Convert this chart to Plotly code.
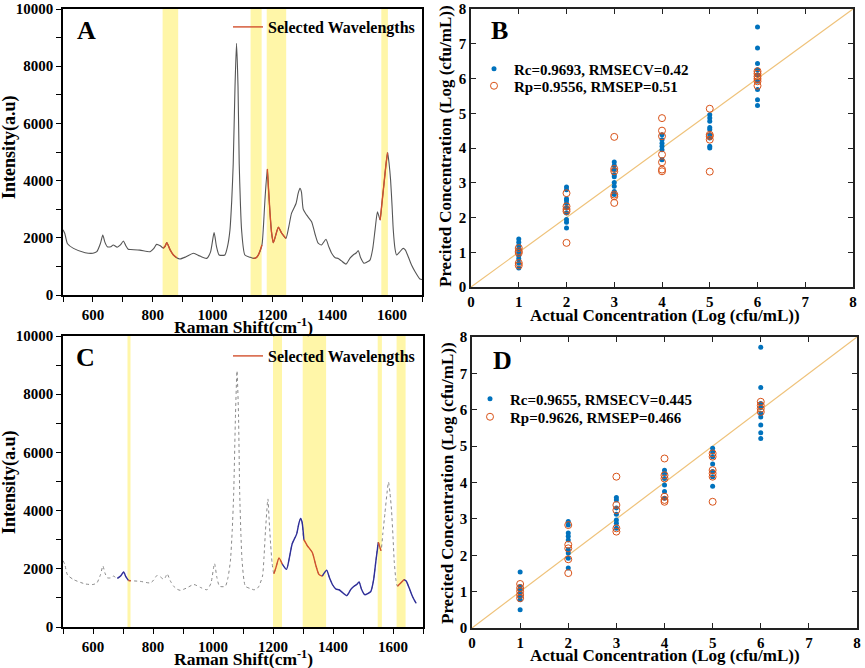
import plotly.graph_objects as go

# ---------------- data ----------------
raman_shift = [500, 506, 515, 535, 574, 600, 613, 625, 633, 640, 648, 660, 668, 681, 692, 702, 710, 718, 726,
               757, 791, 803, 813, 825, 835, 841, 847, 858, 869, 880, 891, 910, 936, 958, 980, 993, 1005, 1013,
               1022, 1041, 1050, 1058, 1064, 1069, 1075, 1080, 1085, 1089, 1093, 1097, 1108, 1125, 1136, 1145,
               1153, 1165, 1170, 1175, 1183, 1187, 1192, 1197, 1203, 1210, 1220, 1231, 1245, 1255, 1264, 1279,
               1286, 1292, 1297, 1303, 1314, 1331, 1342, 1353, 1364, 1379, 1388, 1398, 1410, 1420, 1430, 1446,
               1460, 1470, 1480, 1487, 1495, 1506, 1516, 1526, 1535, 1543, 1551, 1556, 1560, 1566, 1573, 1580,
               1585, 1590, 1595, 1600, 1604, 1610, 1615, 1625, 1637, 1644, 1654, 1665, 1677, 1693, 1700]
intensity = [2280, 2150, 1790, 1630, 1480, 1460, 1515, 1800, 2100, 1850, 1690, 1690, 1750, 1670, 1750, 1890,
             1720, 1600, 1590, 1570, 1515, 1620, 1770, 1720, 1640, 1700, 1830, 1580, 1400, 1300, 1260, 1330,
             1460, 1360, 1280, 1500, 2180, 1700, 1400, 1400, 1700, 2270, 3300, 4600, 7300, 8800, 7300, 4600,
             3200, 2270, 1400, 1320, 1280, 1300, 1400, 1750, 2400, 3320, 4400, 3700, 2860, 2200, 1830, 2050,
             2370, 2160, 1980, 2400, 2860, 3200, 3550, 3730, 3600, 3000, 2800, 2560, 2150, 1810, 1750, 1950,
             1700, 1460, 1300, 1280, 1200, 1080, 1300, 1400, 1470, 1550, 1300, 1110, 1150, 1220, 1600, 2270,
             2910, 2750, 2620, 3200, 3900, 4600, 4980, 4600, 4020, 3100, 2270, 1600, 1400, 1500, 1630, 1580,
             1340, 1050, 815, 560, 540]

bands_a = [[833, 885], [1127, 1164], [1181, 1246], [1564, 1586]]
selected_a = [[835, 880], [1130, 1165], [1183, 1245], [1560, 1585]]

bands_c = [[715, 725], [1200, 1230], [1299, 1377], [1549, 1563], [1612, 1642]]
selected_c = [[718, 726], [1203, 1231], [1303, 1364], [1551, 1560], [1615, 1637]]
retained_c = [[681, 718], [1231, 1303], [1364, 1551], [1637, 1677]]
c_end = 1680

levels = [1, 2, 3, 4, 5, 6]
b_cal = [[1.38, 1.29, 1.19, 1.09, 1.00, 0.90, 0.81, 0.69, 0.55],
         [2.88, 2.80, 2.54, 2.49, 2.40, 2.27, 2.13, 1.94, 1.86, 1.70],
         [3.60, 3.50, 3.38, 3.23, 3.17, 3.01, 2.90, 2.75, 2.66],
         [4.38, 4.24, 4.14, 4.05, 3.95, 3.66],
         [4.96, 4.86, 4.77, 4.59, 4.53, 4.38, 4.29, 4.05, 4.00],
         [7.48, 6.88, 6.43, 6.25, 6.11, 5.92, 5.68, 5.39, 5.22]]
b_pred = [[1.12, 1.03, 0.98, 0.69, 0.62],
          [2.70, 2.32, 2.24, 2.18, 1.27],
          [4.32, 3.40, 3.33, 2.66, 2.61, 2.42],
          [4.86, 4.50, 4.34, 3.81, 3.59, 3.38, 3.33],
          [5.13, 4.38, 4.34, 4.24, 3.32],
          [6.21, 6.14, 6.06, 5.99, 5.92, 5.79]]
d_cal = [[1.54, 1.14, 1.05, 0.96, 0.87, 0.78, 0.50],
         [2.93, 2.83, 2.61, 2.52, 2.42, 2.15, 2.06, 1.92, 1.65],
         [3.59, 3.52, 3.30, 3.13, 2.97, 2.88, 2.74],
         [4.34, 4.25, 4.11, 3.93, 3.75, 3.57],
         [4.94, 4.84, 4.71, 4.51, 4.30, 4.16, 3.90],
         [7.72, 6.61, 6.17, 6.06, 5.90, 5.80, 5.58, 5.37, 5.21]]
d_pred = [[1.21, 1.10, 1.01, 0.91, 0.82],
          [2.83, 2.29, 2.19, 1.89, 1.51],
          [4.16, 3.38, 3.24, 2.74, 2.65],
          [4.66, 4.20, 4.11, 3.61, 3.52, 3.47],
          [4.80, 4.71, 4.34, 4.25, 4.16, 3.47],
          [6.22, 6.12, 6.03, 5.94]]
ideal_line = [0, 8]

b_labels = ["Rc=0.9693, RMSECV=0.42", "Rp=0.9556, RMSEP=0.51"]
d_labels = ["Rc=0.9655, RMSECV=0.445", "Rp=0.9626, RMSEP=0.466"]

# ---------------- styles ----------------
FONT = "Liberation Serif, Times New Roman, serif"
GRAY = "#555555"
RED = "#D2502D"
BLUE = "#2E2E9A"
YELLOW = "rgba(255,240,110,0.6)"
MBLUE = "#0072BD"
MORANGE = "#D95319"
DIAG = "#EFC27A"

W, H = 865, 668


def fx(px):
    return px / W


def fy(py):
    return 1 - py / H


def segments(ranges, xs, ys):
    ox, oy = [], []
    for lo, hi in ranges:
        for x, y in zip(xs, ys):
            if lo <= x <= hi:
                ox.append(x)
                oy.append(y)
        ox.append(None)
        oy.append(None)
    return ox, oy


def flatten(groups):
    xs, ys = [], []
    for lv, vals in zip(levels, groups):
        for v in vals:
            xs.append(lv)
            ys.append(v)
    return xs, ys


fig = go.Figure()

# ---- Panel A ----
fig.add_trace(go.Scatter(x=raman_shift, y=intensity, mode="lines", line=dict(color=GRAY, width=1.1, shape="spline", smoothing=0.6),
                         showlegend=False, xaxis="x", yaxis="y"))
sx, sy = segments(selected_a, raman_shift, intensity)
fig.add_trace(go.Scatter(x=sx, y=sy, mode="lines", line=dict(color=RED, width=1.4, shape="spline", smoothing=0.6),
                         name="Selected Wavelengths", legend="legend", xaxis="x", yaxis="y"))

# ---- Panel C ----
cx = [x for x in raman_shift if x <= c_end]
cy = [y for x, y in zip(raman_shift, intensity) if x <= c_end]
fig.add_trace(go.Scatter(x=cx, y=cy, mode="lines", line=dict(color="#8a8a8a", width=1.0, dash="dot", shape="spline", smoothing=0.6),
                         showlegend=False, xaxis="x3", yaxis="y3"))
bx, by = segments(retained_c, raman_shift, intensity)
fig.add_trace(go.Scatter(x=bx, y=by, mode="lines", line=dict(color=BLUE, width=1.4, shape="spline", smoothing=0.6),
                         showlegend=False, xaxis="x3", yaxis="y3"))
rx, ry = segments(selected_c, raman_shift, intensity)
fig.add_trace(go.Scatter(x=rx, y=ry, mode="lines", line=dict(color=RED, width=1.4, shape="spline", smoothing=0.6),
                         name="Selected Wavelengths", legend="legend2", xaxis="x3", yaxis="y3"))

# ---- Panels B, D ----
for (cal, pred, labels, xa, ya, lg1, lg2) in [(b_cal, b_pred, b_labels, "x2", "y2", "legend3", "legend4"),
                                               (d_cal, d_pred, d_labels, "x4", "y4", "legend5", "legend6")]:
    fig.add_trace(go.Scatter(x=ideal_line, y=ideal_line, mode="lines", line=dict(color=DIAG, width=1.2),
                             showlegend=False, xaxis=xa, yaxis=ya))
    px_, py_ = flatten(cal)
    fig.add_trace(go.Scatter(x=px_, y=py_, mode="markers", marker=dict(color=MBLUE, size=5),
                             name=labels[0], legend=lg1, xaxis=xa, yaxis=ya))
    qx, qy = flatten(pred)
    fig.add_trace(go.Scatter(x=qx, y=qy, mode="markers",
                             marker=dict(color="rgba(0,0,0,0)", size=7, line=dict(color=MORANGE, width=1)),
                             name=labels[1], legend=lg2, xaxis=xa, yaxis=ya))

# ---- bands ----
shapes = []
for lo, hi in bands_a:
    shapes.append(dict(type="rect", xref="x", yref="y domain", x0=lo, x1=hi, y0=0, y1=1,
                       fillcolor=YELLOW, line=dict(width=0), layer="below"))
for lo, hi in bands_c:
    shapes.append(dict(type="rect", xref="x3", yref="y3 domain", x0=lo, x1=hi, y0=0, y1=1,
                       fillcolor=YELLOW, line=dict(width=0), layer="below"))

tickfont = dict(family=FONT, size=15, color="black", weight="bold")


def spec_x(domain, anchor):
    return dict(domain=domain, anchor=anchor, range=[500, 1700], tick0=0, dtick=200, ticks="outside", ticklen=5,
                tickwidth=1.3, minor=dict(dtick=100, ticks="outside", ticklen=5, tickwidth=1.3, tickcolor="black"),
                showline=True, linewidth=1.5, linecolor="black", mirror=True, showgrid=False, zeroline=False,
                tickfont=tickfont, tickcolor="black", automargin=False, tickformat="d", ticklabeloverflow="allow")


def spec_y(domain, anchor):
    return dict(domain=domain, anchor=anchor, range=[0, 10000], tick0=0, dtick=2000, ticks="outside", ticklen=5,
                tickwidth=1.3, minor=dict(dtick=1000, ticks="outside", ticklen=5, tickwidth=1.3, tickcolor="black"),
                showline=True, linewidth=1.5, linecolor="black", mirror=True, showgrid=False, zeroline=False,
                tickfont=tickfont, tickcolor="black", automargin=False, tickformat="d", ticklabeloverflow="allow")


def conc_axis(domain, anchor):
    return dict(domain=domain, anchor=anchor, range=[0, 8], dtick=1, ticks="inside", ticklen=5, tickwidth=1.2,
                showline=True, linewidth=1.5, linecolor="#222222", mirror="ticks", showgrid=False, zeroline=False,
                tickfont=tickfont, tickcolor="#222222", automargin=False, ticklabeloverflow="allow")


annots = []


def txt(x, y, s, size, angle=0):
    annots.append(dict(x=fx(x), y=fy(y), xref="paper", yref="paper", text=s, showarrow=False,
                       textangle=angle, xanchor="center", yanchor="middle",
                       font=dict(family=FONT, size=size, color="black", weight="bold")))


txt(86, 31, "A", 26)
txt(499, 31, "B", 26)
txt(85, 358, "C", 26)
txt(502, 360, "D", 26)
txt(243, 326, "Raman Shift(cm<sup>-1</sup>)", 17.5)
txt(243, 658, "Raman Shift(cm<sup>-1</sup>)", 17.5)
txt(9, 147, "Intensity(a.u)", 18, -90)
txt(9, 482, "Intensity(a.u)", 18, -90)
txt(665, 315, "Actual Concentration (Log (cfu/mL))", 17)
txt(665, 655, "Actual Concentration (Log (cfu/mL))", 17)
txt(445, 146, "Precited Concentration (Log (cfu/mL))", 17, -90)
txt(448, 483, "Precited Concentration (Log (cfu/mL))", 17, -90)

legfont = dict(family=FONT, size=16, color="black", weight="bold")
legfont2 = dict(family=FONT, size=15, color="black", weight="bold")


def leg(x, y, font):
    return dict(x=fx(x), y=fy(y), xanchor="left", yanchor="middle", bgcolor="rgba(0,0,0,0)", font=font)


fig.update_layout(
    width=W, height=H, margin=dict(l=0, r=0, t=0, b=0, autoexpand=False),
    paper_bgcolor="white", plot_bgcolor="white",
    font=dict(family=FONT, size=15, color="black", weight="bold"),
    xaxis=spec_x([fx(63), fx(422)], "y"), yaxis=spec_y([fy(295), fy(9)], "x"),
    xaxis3=spec_x([fx(63), fx(423)], "y3"), yaxis3=spec_y([fy(627), fy(336)], "x3"),
    xaxis2=conc_axis([fx(471), fx(853)], "y2"), yaxis2=conc_axis([fy(287), fy(9)], "x2"),
    xaxis4=conc_axis([fx(472), fx(857)], "y4"), yaxis4=conc_axis([fy(628), fy(337)], "x4"),
    shapes=shapes, annotations=annots,
    legend=leg(228, 27, legfont),
    legend2=leg(228, 356, legfont),
    legend3=leg(474, 69, legfont2),
    legend4=leg(474, 86, legfont2),
    legend5=leg(470, 399, legfont2),
    legend6=leg(470, 417, legfont2),
)

# remove the default 8px page margin so the figure sits at the window's top-left corner
fig.write_html("out.html", config={"displayModeBar": False},
               post_script="document.body.style.margin='0px';")
